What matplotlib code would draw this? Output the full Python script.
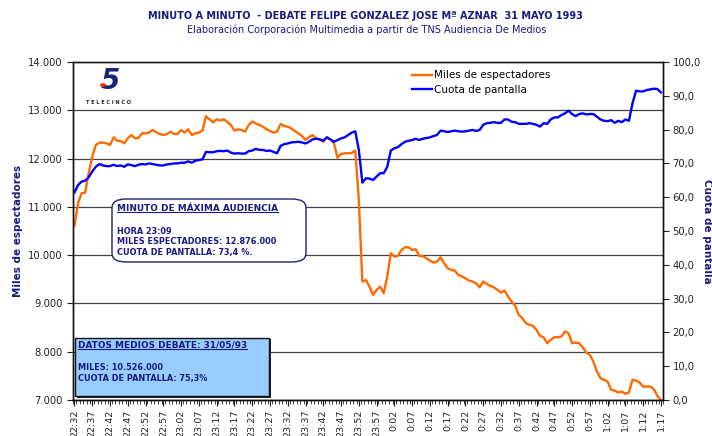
import matplotlib
matplotlib.use("Agg")
import matplotlib.pyplot as plt
from matplotlib.patches import FancyBboxPatch, Rectangle, Circle
from matplotlib.lines import Line2D

plt.rcParams['font.family'] = ['DejaVu Sans']

# ---------------- data ----------------
miles = [10612, 11074, 11281, 11295, 11695, 12040, 12281, 12330, 12330, 12316,
         12281, 12440, 12371, 12364, 12316, 12420, 12488, 12420, 12427, 12523,
         12523, 12537, 12592, 12544, 12509, 12488, 12509, 12557, 12509, 12509,
         12592, 12537, 12606, 12488, 12523, 12537, 12578, 12876, 12813, 12751,
         12813, 12785, 12813, 12758, 12696, 12578, 12606, 12592, 12557, 12696,
         12765, 12730, 12696, 12661, 12610, 12571, 12537, 12557, 12716, 12675,
         12661, 12627, 12571, 12523, 12468, 12385, 12440, 12488, 12420, 12399,
         12350, 12440, 12399, 12316, 12019, 12095, 12109, 12109, 12116, 12164,
         11143, 9453, 9487, 9349, 9176, 9280, 9349, 9211, 9556, 10039,
         9970, 9984, 10108, 10163, 10163, 10108, 10122, 9984, 9984, 9936,
         9887, 9846, 9867, 9956, 9832, 9729, 9694, 9680, 9590, 9560,
         9520, 9473, 9453, 9418, 9335, 9453, 9404, 9363, 9335, 9280,
         9225, 9266, 9142, 9039, 8949, 8763, 8694, 8590, 8556, 8535,
         8452, 8328, 8300, 8176, 8245, 8300, 8300, 8314, 8418, 8383,
         8176, 8190, 8176, 8093, 7983, 7934, 7797, 7590, 7452, 7417,
         7382, 7210, 7196, 7155, 7175, 7127, 7155, 7417, 7403, 7362,
         7279, 7279, 7279, 7224, 7086, 7000]

cuota = [61.4, 63.6, 64.6, 64.9, 65.9, 67.6, 69.0, 69.8, 69.4, 69.2,
         69.2, 69.6, 69.2, 69.4, 69.0, 69.7, 69.5, 69.2, 69.6, 69.8,
         69.7, 70.0, 69.8, 69.6, 69.4, 69.4, 69.7, 69.8, 70.0, 70.0,
         70.2, 70.2, 70.6, 70.2, 70.8, 71.0, 71.2, 73.4, 73.3, 73.3,
         73.6, 73.7, 73.6, 73.8, 73.2, 72.9, 73.0, 72.9, 72.9, 73.6,
         73.8, 74.3, 74.0, 74.0, 73.7, 73.8, 73.4, 73.0, 75.2, 75.7,
         75.9, 76.2, 76.3, 76.4, 76.2, 75.9, 76.4, 77.1, 77.3, 77.1,
         76.7, 77.7, 77.1, 76.4, 76.9, 77.4, 77.7, 78.4, 79.1, 79.5,
         74.0, 64.3, 65.6, 65.5, 65.1, 66.1, 67.1, 67.1, 69.0, 73.8,
         74.5, 74.8, 75.7, 76.4, 76.7, 76.9, 77.3, 76.9, 77.3, 77.5,
         77.7, 78.1, 78.4, 79.7, 79.5, 79.3, 79.5, 79.7, 79.5, 79.4,
         79.5, 79.7, 79.9, 79.6, 79.9, 81.4, 81.9, 82.0, 82.2, 82.0,
         82.0, 83.0, 83.0, 82.3, 82.2, 81.7, 81.7, 81.7, 81.9, 81.7,
         81.4, 80.9, 81.9, 81.7, 83.0, 83.6, 83.6, 84.3, 84.8, 85.6,
         84.6, 84.0, 84.6, 84.8, 84.5, 84.6, 84.6, 83.8, 83.0, 82.6,
         82.5, 82.8, 82.0, 82.6, 82.2, 83.0, 82.6, 87.8, 91.5, 91.3,
         91.3, 91.7, 91.9, 92.1, 92.0, 91.0]

tick_labels = ["22:32", "22:37", "22:42", "22:47", "22:52", "22:57", "23:02",
               "23:07", "23:12", "23:17", "23:22", "23:27", "23:32", "23:37",
               "23:42", "23:47", "23:52", "23:57", "0:02", "0:07", "0:12",
               "0:17", "0:22", "0:27", "0:32", "0:37", "0:42", "0:47", "0:52",
               "0:57", "1:02", "1:07", "1:12", "1:17"]

left_ticks = [7000, 8000, 9000, 10000, 11000, 12000, 13000, 14000]
right_ticks = [0, 10, 20, 30, 40, 50, 60, 70, 80, 90, 100]

# ---------------- figure ----------------
W, H = 712, 436
fig = plt.figure(figsize=(W / 100, H / 100), dpi=100)
fig.patch.set_facecolor("white")

def fx(px):
    return px / W

def fy(py):
    return 1 - py / H

L, R, T, B = 72.7, 662.7, 62, 400
ax = fig.add_axes([fx(L), fy(B), fx(R) - fx(L), fy(T) - fy(B)])
ax2 = ax.twinx()

navy = "#1a1a80"
orange = "#FF6A00"
blue = "#0000FF"
tcol = "#222222"

n = len(miles)
xs = list(range(n))
l1, = ax.plot(xs, miles, color=orange, lw=1.7, solid_joinstyle="round")
l2, = ax2.plot(xs, cuota, color=blue, lw=1.7, solid_joinstyle="round")

ax.set_xlim(-0.5, n - 0.5)
ax.set_ylim(7000, 14000)
ax2.set_ylim(0, 100)

ax.set_yticks(left_ticks)
ax.set_yticklabels([f"{v:,}".replace(",", ".") for v in left_ticks])
ax2.set_yticks(right_ticks)
ax2.set_yticklabels([f"{v:.1f}".replace(".", ",") for v in right_ticks])

ax.set_xticks(list(range(0, n, 5)))
ax.set_xticklabels(tick_labels, rotation=90)
ax.set_xticks([i + 0.5 for i in range(-1, n)], minor=True)

ax.tick_params(axis="x", which="major", length=4, labelsize=6.8, colors=tcol, pad=3)
ax.tick_params(axis="x", which="minor", length=3, color=tcol)
ax.tick_params(axis="y", length=4, labelsize=7.2, colors=tcol, pad=3)
ax2.tick_params(axis="y", length=4, labelsize=7.2, colors=tcol, pad=3)

for a in (ax, ax2):
    for s in a.spines.values():
        s.set_color("#111111")
        s.set_linewidth(1.0)
ax.spines["top"].set_color("#777777")

ax.yaxis.grid(True, color="#444444", lw=0.9)
ax.set_axisbelow(True)

fig.text(fx(18), fy(231), "Miles de espectadores", rotation=90, ha="center",
         va="center", fontsize=7.5, fontweight="bold", color=navy)
fig.text(fx(707), fy(231), "Cuota de pantalla", rotation=270, ha="center",
         va="center", fontsize=7.5, fontweight="bold", color=navy)

# titles
fig.text(fx(365), fy(16), "MINUTO A MINUTO  - DEBATE FELIPE GONZALEZ JOSE Mª AZNAR  31 MAYO 1993",
         ha="center", va="center", fontsize=7, fontweight="bold", color=navy)
fig.text(fx(367), fy(30), "Elaboración Corporación Multimedia a partir de TNS Audiencia De Medios",
         ha="center", va="center", fontsize=7, color=navy)

# legend
fig.legend([l1, l2], ["Miles de espectadores", "Cuota de pantalla"],
           loc="upper left", bbox_to_anchor=(fx(408), fy(66)), frameon=False,
           fontsize=7.5, handlelength=1.9, handletextpad=0.2, labelspacing=0.45,
           borderaxespad=0)

# logo
fig.text(fx(110), fy(81), "5", ha="center", va="center", fontsize=20,
         fontweight="bold", style="italic", color="#1a237e")
fig.patches.append(Circle((fx(103), fy(85)), 3.0 / W, transform=fig.transFigure,
                          facecolor="#ff2a00", edgecolor="none", zorder=5))
fig.text(fx(108), fy(102), "T E L E C I N C O", ha="center", va="center",
         fontsize=3.6, fontweight="bold", color="#222222")

# info box 1
box1 = FancyBboxPatch((fx(112), fy(262)), fx(306) - fx(112), fy(199) - fy(262),
                      boxstyle="round,pad=0,rounding_size=0.02",
                      transform=fig.transFigure, facecolor="white",
                      edgecolor="#20206e", lw=1.0, zorder=10)
fig.patches.append(box1)
t1 = fig.text(fx(117), fy(208), "MINUTO DE MÁXIMA AUDIENCIA", ha="left", va="center",
              fontsize=6.4, fontweight="bold", color=navy, zorder=11)
for yy, s in [(231, "HORA 23:09"), (241, "MILES ESPECTADORES: 12.876.000"),
              (252, "CUOTA DE PANTALLA: 73,4 %.")]:
    fig.text(fx(117), fy(yy), s, ha="left", va="center", fontsize=5.9,
             fontweight="bold", color=navy, zorder=11)

# info box 2
fig.patches.append(Rectangle((fx(77), fy(398)), fx(271) - fx(77), fy(339) - fy(398),
                             transform=fig.transFigure, facecolor="#222222",
                             edgecolor="none", zorder=9))
fig.patches.append(Rectangle((fx(75), fy(396)), fx(269) - fx(75), fy(338) - fy(396),
                             transform=fig.transFigure, facecolor="#99CCFF",
                             edgecolor="#111111", lw=1.0, zorder=10))
t2 = fig.text(fx(78), fy(345), "DATOS MEDIOS DEBATE: 31/05/93", ha="left", va="center",
              fontsize=6.4, fontweight="bold", color=navy, zorder=11)
for yy, s in [(367, "MILES: 10.526.000"), (378, "CUOTA DE PANTALLA: 75,3%")]:
    fig.text(fx(78), fy(yy), s, ha="left", va="center", fontsize=5.9,
             fontweight="bold", color=navy, zorder=11)

# underline headings
fig.canvas.draw()
rend = fig.canvas.get_renderer()
inv = fig.transFigure.inverted()
for t in (t1, t2):
    bb = t.get_window_extent(rend)
    (x0, y0), (x1, _) = inv.transform([(bb.x0, bb.y0), (bb.x1, bb.y0)])
    fig.lines.append(Line2D([x0, x1], [y0 + 0.001, y0 + 0.001], transform=fig.transFigure,
                            color=navy, lw=0.8, zorder=12))

fig.savefig("out.png", dpi=100, facecolor="white")
